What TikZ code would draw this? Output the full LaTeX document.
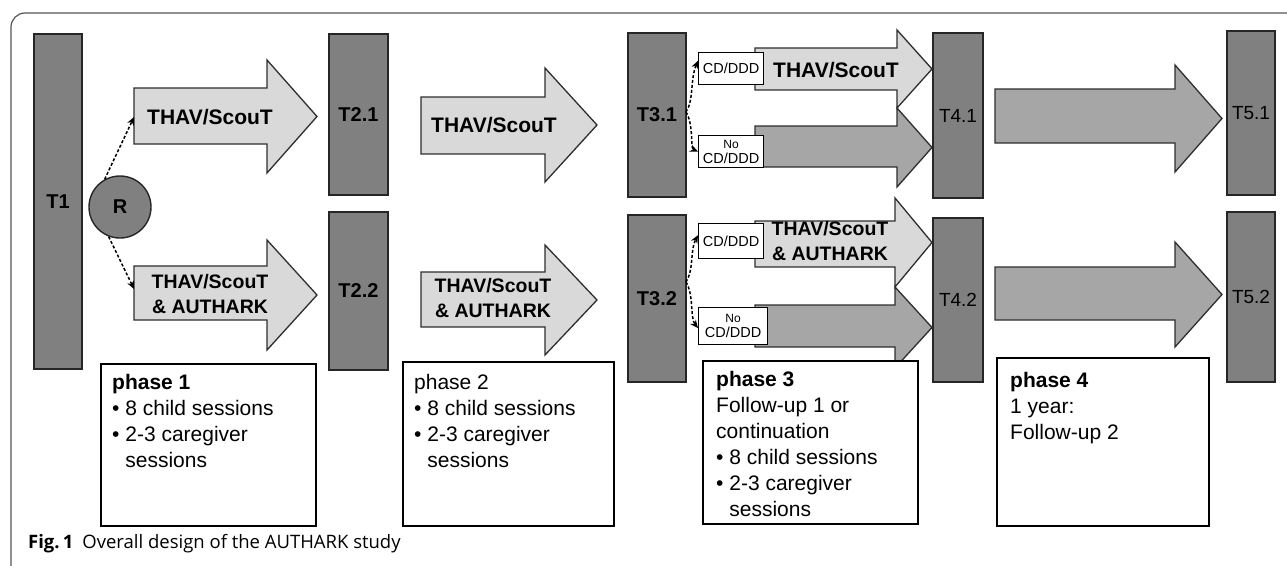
\documentclass[tikz,border=0pt]{standalone}
\usepackage{fontspec}
\setmainfont{Liberation Sans}
\newfontfamily\capfont{Open Sans}
\usetikzlibrary{arrows.meta}

\definecolor{barfill}{HTML}{808080}
\definecolor{barline}{HTML}{262626}
\definecolor{lightfill}{HTML}{D9D9D9}
\definecolor{midfill}{HTML}{A6A6A6}
\definecolor{outline}{HTML}{2E2E2E}
\definecolor{framegray}{HTML}{555555}

% block arrow: style, left x, head x, tip x, shaft top, shaft bottom, head top, head bottom
\newcommand\flowarrow[8]{%
  \draw[#1] (#2,#5) -- (#3,#5) -- (#3,#7) -- (#4,{(#7+#8)/2}) -- (#3,#8) -- (#3,#6) -- (#2,#6) -- cycle;}

\begin{document}
\begin{tikzpicture}[x=1pt,y=-1pt,
  tbar/.style={draw=barline, fill=barfill, line width=1.6pt, inner sep=0pt,
    font=\bfseries\fontsize{20}{22}\selectfont},
  tbarlight/.style={tbar, font=\fontsize{19}{21}\selectfont},
  lightarrow/.style={draw=outline, fill=lightfill, line width=1.3pt, line join=miter},
  midarrow/.style={draw=outline, fill=midfill, line width=1.3pt, line join=miter},
  alabel/.style={inner sep=0pt, align=center, font=\bfseries\fontsize{21}{24}\selectfont},
  alabeltwo/.style={inner sep=0pt, align=center, font=\bfseries\fontsize{19.5}{25}\selectfont},
  tag/.style={draw=black, fill=white, line width=1.3pt, inner sep=0pt, align=center,
    font=\fontsize{14.5}{15}\selectfont},
  phasebox/.style={draw=black, fill=white, line width=1.6pt, inner sep=0pt, anchor=north west},
  phasetxt/.style={inner sep=0pt, anchor=north west, align=left, font=\fontsize{21}{26}\selectfont},
  conn/.style={densely dashed, line width=1.5pt, -{Stealth[length=8pt,width=7pt]}},
]
\useasboundingbox (0,0) rectangle (1287,565);

% outer frame, open to the right and bottom
\draw[framegray, line width=1.2pt, rounded corners=14pt] (1300,13) -- (11,13) -- (11,580);

% measurement bars
\node[tbar, minimum width=48, minimum height=335] (T1) at (58,201.5) {T1};
\node[tbar, minimum width=59, minimum height=161] (T21) at (358.5,114.5) {T2.1};
\node[tbar, minimum width=59, minimum height=158] (T22) at (358.5,291) {T2.2};
\node[tbar, minimum width=58, minimum height=164] (T31) at (657,115) {T3.1};
\node[tbar, minimum width=58, minimum height=167] (T32) at (657,298.5) {T3.2};
\node[tbarlight, minimum width=50, minimum height=165] (T41) at (958,115.5) {T4.1};
\node[tbarlight, minimum width=50, minimum height=164] (T42) at (958,300) {T4.2};
\node[tbarlight, minimum width=48, minimum height=164] (T51) at (1251,113) {T5.1};
\node[tbarlight, minimum width=48, minimum height=170] (T52) at (1251,297) {T5.2};

% randomisation
\node[circle, draw=barline, fill=barfill, line width=1.4pt, minimum size=62, inner sep=0pt,
  font=\bfseries\fontsize{20}{22}\selectfont] (R) at (120,207) {R};

% phase 1
\flowarrow{lightarrow}{134}{267}{317}{88}{144}{60}{173}
\flowarrow{lightarrow}{134}{267}{317}{266}{320}{240}{350}
\node[alabel] (A1) at (210,117) {THAV/ScouT};
\node[alabeltwo] (A2) at (210,294) {THAV/ScouT\\\& AUTHARK};
\coordinate (A1in) at (134,117);
\coordinate (A2in) at (134,289);
\draw[conn] (R.119) -- (A1in);
\draw[conn] (R.249) -- (A2in);

% phase 2
\flowarrow{lightarrow}{421}{545}{597}{97}{154}{68}{182}
\flowarrow{lightarrow}{421}{545}{597}{272}{327}{245}{355}
\node[alabel] (A3) at (494,125) {THAV/ScouT};
\node[alabeltwo] (A4) at (493,298) {THAV/ScouT\\\& AUTHARK};

% phase 3: branches after T3.1
\flowarrow{lightarrow}{755}{897}{932}{48}{90}{30}{108}
\flowarrow{midarrow}{755}{897}{932}{126}{167}{108}{187}
\node[tag, minimum width=65, minimum height=32, anchor=north west] (L1) at (698,52) {CD/DDD};
\node[tag, minimum width=65, minimum height=32, anchor=north west] (L2) at (698,135)
  {{\fontsize{12}{13}\selectfont No}\\CD/DDD};
\node[alabel] (A5) at (836,70) {THAV/ScouT};
\coordinate (B1) at (686,112);
\draw[conn] (B1) .. controls (694,100) and (690,80) .. ([yshift=8]L1.west);
\draw[conn] (B1) .. controls (694,125) and (690,148) .. (L2.west);

% phase 3: branches after T3.2
\flowarrow{lightarrow}{755}{895}{932}{221}{267}{198}{287}
\flowarrow{midarrow}{755}{895}{932}{305}{347}{287}{368}
\node[tag, minimum width=65, minimum height=35, anchor=north west] (L3) at (698,223) {CD/DDD};
\node[tag, minimum width=69, minimum height=37, anchor=north west] (L4) at (698,307)
  {{\fontsize{12}{13}\selectfont No}\\CD/DDD};
\node[alabeltwo] (A7) at (830,241) {THAV/ScouT\\\& AUTHARK};
\coordinate (B2) at (686,282);
\draw[conn] (B2) .. controls (694,270) and (690,250) .. ([yshift=6]L3.west);
\draw[conn] (B2) .. controls (694,295) and (690,318) .. ([yshift=-2]L4.west);

% phase 4
\flowarrow{midarrow}{995}{1175}{1222}{89}{143}{65}{172}
\flowarrow{midarrow}{995}{1175}{1222}{267}{320}{242}{347}

% phase descriptions
\node[phasebox, minimum width=215, minimum height=162] (P1) at (100,363) {};
\node[phasetxt] (P1t) at (112,374) {\textbf{phase 1}\\\textbullet\ 8 child sessions\\
  \textbullet\ 2-3 caregiver\\\phantom{\textbullet\ }sessions};
\node[phasebox, minimum width=211, minimum height=164] (P2) at (402,361) {};
\node[phasetxt] (P2t) at (414,374) {phase 2\\\textbullet\ 8 child sessions\\
  \textbullet\ 2-3 caregiver\\\phantom{\textbullet\ }sessions};
\node[phasebox, minimum width=215, minimum height=163] (P3) at (702,360) {};
\node[phasetxt] (P3t) at (716,371) {\textbf{phase 3}\\Follow-up 1 or\\continuation\\
  \textbullet\ 8 child sessions\\\textbullet\ 2-3 caregiver\\\phantom{\textbullet\ }sessions};
\node[phasebox, minimum width=212, minimum height=168] (P4) at (996,357) {};
\node[phasetxt] (P4t) at (1010,372) {\textbf{phase 4}\\1 year:\\Follow-up 2};

% caption
\node[anchor=base west, inner sep=0pt] (cap) at (28,548)
  {\capfont\fontsize{18.5}{21}\selectfont\textbf{Fig.\,1}\hspace{9pt}Overall design of the AUTHARK study};
\end{tikzpicture}
\end{document}
